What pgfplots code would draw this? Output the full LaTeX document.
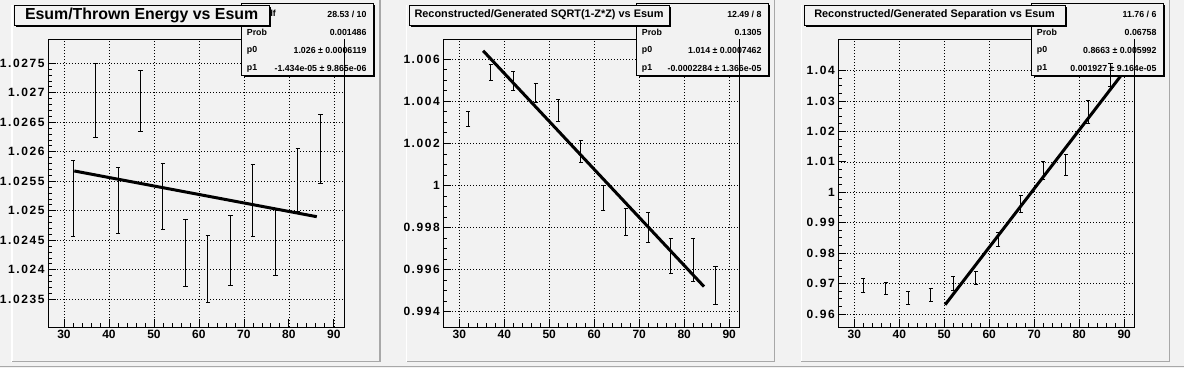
\documentclass[border=0pt]{standalone}
\usepackage{fontspec}
\setmainfont{Liberation Sans}
\usepackage{pgfplots}
\pgfplotsset{compat=1.18}
\definecolor{padbg}{RGB}{242,242,242}
\definecolor{bevel}{RGB}{168,168,168}

\pgfplotsset{
  rootax/.style={
    width=296pt, height=288pt, scale only axis,
    xmin=26.45, xmax=92.25,
    xtick={30,40,50,60,70,80,90},
    minor x tick num=4,
    tick pos=left,
    tick align=inside,
    major tick length=8pt, minor tick length=4pt,
    grid=major,
    major grid style={black, dash pattern=on 0.9pt off 2.1pt, line width=0.7pt},
    axis line style={black, line width=0.9pt},
    tick style={black, line width=0.8pt},
    xticklabel style={font=\bfseries\fontsize{12}{12}\selectfont},
    yticklabel style={font=\bfseries\fontsize{12}{12}\selectfont\addfontfeature{LetterSpace=13}},
    /pgf/number format/assume math mode=true,
    scaled y ticks=false,
    clip=true,
  },
  ebar/.style={draw=none, mark=none,
    error bars/.cd, y dir=both, y explicit,
    error mark=-,
    error bar style={draw=black, solid, line width=0.9pt},
    error mark options={rotate=90, draw=black, solid, line width=0.9pt, mark size=2.2pt}},
  fitline/.style={black, line width=3pt, no marks},
}

\pgfplotstableread{
x y e
32 1.02521 0.00065
37 1.02687 0.00063
42 1.025175 0.00056
47 1.02686 0.00051
52 1.02524 0.00056
57 1.02428 0.00057
62 1.02401 0.00057
67 1.024326 0.00060
72 1.025174 0.00061
77 1.024466 0.00056
82 1.02552 0.00053
87 1.026045 0.00058
}\dataA

\pgfplotstableread{
x y e
32 1.00315 0.00036
37 1.005376 0.00040
42 1.00498 0.00044
47 1.00439 0.00046
52 1.00356 0.00053
57 1.001636 0.00052
62 0.999415 0.00058
67 0.998283 0.00064
72 0.998022 0.00071
77 0.996657 0.00084
82 0.996467 0.00103
87 0.995254 0.00089
}\dataB

\pgfplotstableread{
x y e
32 0.96935 0.0024
37 0.96843 0.0020
42 0.96531 0.0021
47 0.96630 0.0021
52 0.97008 0.0023
57 0.97182 0.0021
62 0.98455 0.0023
67 0.99620 0.0028
72 1.00716 0.0029
77 1.00904 0.0035
82 1.02640 0.0038
}\dataC

\newcommand\statfont{\bfseries\fontsize{8.8}{9}\selectfont}
\newcommand\statbox[5]{%
  \begin{scope}[x=1pt,y=1pt]
  \fill[black] (243.7+#1,291) rectangle (375.3+#1,363);
  \filldraw[fill=padbg, draw=black, line width=0.8pt] (241.7+#1,293) rectangle (373.3+#1,365);
  \node[anchor=west,inner sep=0,font=\statfont] at (246.7+#1,353.5) {χ² / ndf};
  \node[anchor=east,inner sep=0,font=\statfont] at (366.7+#1,353.5) {#2};
  \node[anchor=west,inner sep=0,font=\statfont] at (246.7+#1,335.7) {Prob};
  \node[anchor=east,inner sep=0,font=\statfont] at (366.7+#1,335.7) {#3};
  \node[anchor=west,inner sep=0,font=\statfont] at (246.7+#1,317.5) {p0};
  \node[anchor=east,inner sep=0,font=\statfont] at (366.7+#1,317.5) {#4};
  \node[anchor=west,inner sep=0,font=\statfont] at (246.7+#1,299.7) {p1};
  \node[anchor=east,inner sep=0,font=\statfont] at (366.7+#1,299.7) {#5};
  \end{scope}
}
\newcommand\titlebox[4]{%
  \begin{scope}[x=1pt,y=1pt]
  \fill[black] (#1+2,341) rectangle (#2+2,361);
  \filldraw[fill=padbg, draw=black, line width=0.8pt] (#1,343) rectangle (#2,363);
  \node[inner sep=0,font=\bfseries\fontsize{#3}{#3}\selectfont] at ({(#1+#2)/2},353) {#4};
  \end{scope}
}

\begin{document}
\begin{tikzpicture}
\clip (0pt,0pt) rectangle (1184pt,368pt);
\begin{scope}[x=1pt,y=1pt]
\fill[padbg] (0,0) rectangle (1184,368);
\foreach \o in {0,394.67,789.33}{
  \draw[white, line width=1.5pt] (\o+12,6.3) -- (\o+12,363);
  \draw[bevel, line width=1.5pt] (\o+12,6.3) -- (\o+380,6.3) -- (\o+380,368);
}
\draw[bevel, line width=1.5pt] (0,1.3) -- (1184,1.3);
\end{scope}

% Panel 1
\begin{axis}[rootax, at={(48pt,41pt)}, anchor=south west,
  ymin=1.02303, ymax=1.02791,
  ytick={1.0235,1.024,1.0245,1.025,1.0255,1.026,1.0265,1.027,1.0275},
  yticklabels={1.0235,1.024,1.0245,1.025,1.0255,1.026,1.0265,1.027,1.0275},
  minor y tick num=4]
\addplot[ebar] table[x=x,y=y,y error=e] {\dataA};
\addplot[fitline] coordinates {(32.3,1.025674) (86.2,1.024899)};
\end{axis}

% Panel 2
\begin{axis}[rootax, at={(443.3pt,41pt)}, anchor=south west,
  ymin=0.99327, ymax=1.006965,
  ytick={0.994,0.996,0.998,1,1.002,1.004,1.006},
  yticklabels={0.994,0.996,0.998,1,1.002,1.004,1.006},
  minor y tick num=3]
\addplot[ebar] table[x=x,y=y,y error=e] {\dataB};
\addplot[fitline] coordinates {(35.3,1.006407) (84.4,0.995193)};
\end{axis}

% Panel 3
\begin{axis}[rootax, at={(838.3pt,41pt)}, anchor=south west,
  ymin=0.9557, ymax=1.0504,
  ytick={0.96,0.97,0.98,0.99,1,1.01,1.02,1.03,1.04},
  yticklabels={0.96,0.97,0.98,0.99,1,1.01,1.02,1.03,1.04},
  minor y tick num=3]
\addplot[ebar] table[x=x,y=y,y error=e] {\dataC};
\addplot[fitline] coordinates {(50.2,0.96303) (90,1.03973)};
\end{axis}

\statbox{0}{28.53 / 10}{0.001486}{1.026 ± 0.0006119}{-1.434e-05 ± 9.865e-06}
\statbox{395}{12.49 / 8}{0.1305}{1.014 ± 0.0007462}{-0.0002284 ± 1.366e-05}
\statbox{790}{11.76 / 6}{0.06758}{0.8663 ± 0.005992}{0.001927 ± 9.164e-05}

\begin{scope}[x=1pt,y=1pt]
\draw[black, line width=0.9pt] (344,329) -- (344,293);
\draw[black, line width=0.9pt] (739,329) -- (739,293);
\draw[black, line width=0.9pt] (1134,329) -- (1134,293);
\end{scope}

\titlebox{14}{269.3}{15.9}{Esum/Thrown Energy vs Esum}
\titlebox{409}{669}{10.9}{Reconstructed/Generated SQRT(1-Z*Z) vs Esum}
\titlebox{804}{1065}{10.9}{Reconstructed/Generated Separation vs Esum}

% last point of panel 3, drawn over the statistics box
\begin{axis}[at={(838.3pt,41pt)}, anchor=south west, width=296pt, height=288pt,
  scale only axis, xmin=26.45, xmax=92.25, ymin=0.9557, ymax=1.0504,
  hide axis, clip=false]
\addplot[ebar] coordinates {(87,1.03862) +- (0,0.0037)};
\end{axis}
\end{tikzpicture}
\end{document}
